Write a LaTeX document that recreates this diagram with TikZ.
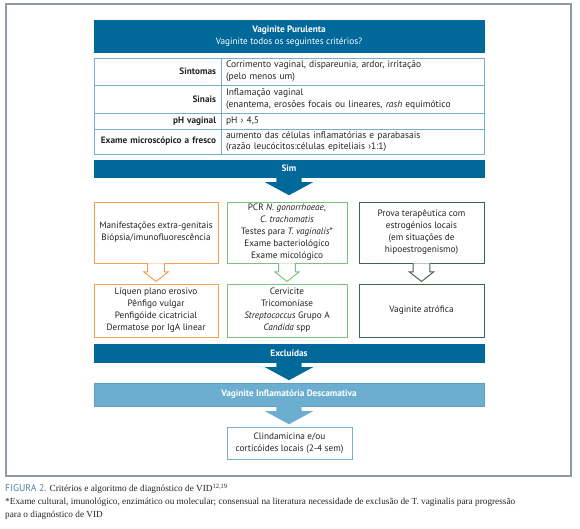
\documentclass[tikz,border=0pt]{standalone}
\usepackage{fontspec}
\setmainfont{PT Sans}
\newfontfamily\capserif{Liberation Serif}
\usepackage{xcolor}
\definecolor{vdblue}{RGB}{0,105,154}
\definecolor{vdlight}{RGB}{108,174,208}
\definecolor{vdline}{RGB}{120,172,208}
\definecolor{vdorange}{RGB}{240,160,82}
\definecolor{vdgreen}{RGB}{122,194,128}
\definecolor{vddark}{RGB}{62,100,78}
\definecolor{vdframe}{RGB}{140,155,172}
\definecolor{vdtext}{RGB}{35,35,35}
\definecolor{vdcap}{RGB}{82,128,170}
\usetikzlibrary{positioning,calc}

\begin{document}
\begin{tikzpicture}[
  bar/.style={fill=vdblue, draw=vdblue, minimum width=11.7cm, inner sep=1pt, align=center, text=white, font=\fontsize{7.9}{10}\selectfont\bfseries},
  lbl/.style={draw=vdline, line width=0.6pt, minimum width=3.81cm, text width=3.51cm, inner xsep=0.15cm, inner ysep=1pt, align=right, text=vdtext, font=\fontsize{7.9}{10}\selectfont\bfseries},
  cell/.style={draw=vdline, line width=0.6pt, minimum width=7.89cm, text width=7.59cm, inner xsep=0.15cm, inner ysep=1pt, align=left, text=vdtext, font=\fontsize{8.1}{10}\selectfont},
  box/.style={fill=white, line width=0.8pt, align=center, text=vdtext, inner sep=1pt, font=\fontsize{7.9}{10.2}\selectfont},
  pics/fullarrow/.style={code={
    \path[pic actions] (-0.38,0) -- (-0.38,-0.15) -- (-0.72,-0.15) -- (0,-0.54) -- (0.72,-0.15) -- (0.38,-0.15) -- (0.38,0) -- cycle;}},
  pics/openarrow/.style={code={
    \path[pic actions] (-0.25,0) -- (-0.25,-0.25) -- (-0.37,-0.25) -- (0,-0.54) -- (0.37,-0.25) -- (0.25,-0.25) -- (0.25,0);}}
]
  \useasboundingbox (0,0) rectangle (17.4,15.84);
  \draw[vdframe, line width=1pt] (0.18,1.56) rectangle (17.13,15.72);

  %% Header
  \node[bar, minimum height=0.96cm] (hdr) at (8.67,14.76)
    {Vaginite Purulenta\\\mdseries Vaginite todos os seguintes critérios?};

  %% Criteria table
  \node[lbl, minimum height=0.81cm] (sint) at (4.725,13.695) {Sintomas};
  \node[cell, minimum height=0.81cm] (sintT) at (10.575,13.695)
    {Corrimento vaginal, dispareunia, ardor, irritação\\(pelo menos um)};
  \node[lbl, minimum height=0.84cm] (sin) at (4.725,12.87) {Sinais};
  \node[cell, minimum height=0.84cm] (sinT) at (10.575,12.87)
    {Inflamação vaginal\\(enantema, erosões focais ou lineares, \textit{rash} equimótico};
  \node[lbl, minimum height=0.48cm] (ph) at (4.725,12.21) {pH vaginal};
  \node[cell, minimum height=0.48cm] (phT) at (10.575,12.21) {pH › 4,5};
  \node[lbl, minimum height=0.75cm] (mic) at (4.725,11.595) {Exame microscópico a fresco};
  \node[cell, minimum height=0.75cm] (micT) at (10.575,11.595)
    {aumento das células inflamatórias e parabasais\\(razão leucócitos:células epiteliais ›1:1)};

  %% Sim
  \node[bar, minimum height=0.51cm] (sim) at (8.67,10.785) {Sim};
  \pic[fill=vdblue] at (sim.south) {fullarrow};

  %% Exams
  \node[box, draw=vdorange, minimum width=3.72cm, minimum height=1.83cm] (extra) at (4.68,8.865)
    {Manifestações extra-genitais\\Biópsia/imunofluorescência};
  \node[box, draw=vdgreen, minimum width=3.6cm, minimum height=1.83cm] (pcr) at (8.61,8.865)
    {PCR \textit{N. gonorrhoeae},\\\textit{C. trachomatis}\\Testes para \textit{T. vaginalis}*\\Exame bacteriológico\\Exame micológico};
  \node[box, draw=vddark, minimum width=3.75cm, minimum height=1.83cm] (prova) at (12.645,8.865)
    {Prova terapêutica com\\estrogénios locais\\(em situações de\\hipoestrogenismo)};

  \pic[draw=vdorange, fill=white, line width=0.8pt] at (extra.south) {openarrow};
  \pic[draw=vdgreen, fill=white, line width=0.8pt] at (pcr.south) {openarrow};
  \pic[draw=vddark, fill=white, line width=0.8pt] at (prova.south) {openarrow};

  %% Diagnoses
  \node[box, draw=vdorange, minimum width=3.72cm, minimum height=1.59cm] (liq) at (4.68,6.525)
    {Líquen plano erosivo\\Pênfigo vulgar\\Penfigóide cicatricial\\Dermatose por IgA linear};
  \node[box, draw=vdgreen, minimum width=3.6cm, minimum height=1.59cm] (cerv) at (8.61,6.525)
    {Cervicite\\Tricomoníase\\\textit{Streptococcus} Grupo A\\\textit{Candida} spp};
  \node[box, draw=vddark, minimum width=3.75cm, minimum height=1.59cm] (atro) at (12.645,6.525)
    {Vaginite atrófica};

  %% Excluidas -> VID -> treatment
  \node[bar, minimum height=0.54cm] (excl) at (8.67,5.25) {Excluídas};
  \pic[fill=vdblue] at (excl.south) {fullarrow};
  \node[bar, fill=vdlight, draw=vdline!80!vdblue, minimum height=0.69cm] (vid) at (8.67,4.005)
    {Vaginite Inflamatória Descamativa};
  \pic[fill=vdlight] at (vid.south) {fullarrow};
  \node[box, draw=vdline, minimum width=3.75cm, minimum height=0.96cm] (clin) at (8.685,2.55)
    {Clindamicina e/ou\\corticóides locais (2-4 sem)};

  %% Caption
  \node[anchor=north west, align=left, inner sep=0pt, text=vdtext, font=\capserif\fontsize{7.9}{11.2}\selectfont] (cap) at (0.15,1.33)
    {{\color{vdcap}\fontspec{PT Sans}\fontsize{8.3}{11.2}\selectfont FIGURA 2.} Critérios e algoritmo de diagnóstico de VID\textsuperscript{12,19}\\
     *Exame cultural, imunológico, enzimático ou molecular; consensual na literatura necessidade de exclusão de T. vaginalis para progressão\\
     para o diagnóstico de VID};
\end{tikzpicture}
\end{document}
